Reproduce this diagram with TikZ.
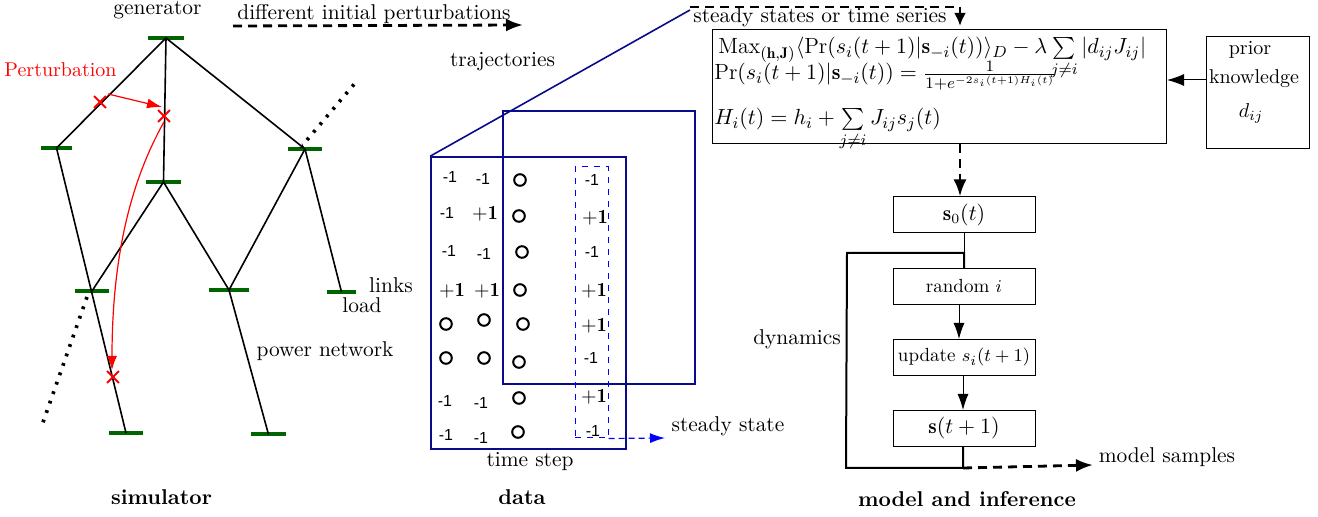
\documentclass[tikz,border=0pt]{standalone}
\usepackage{amsmath}
\usepackage{fontspec}
\usetikzlibrary{arrows.meta,shapes.misc}
\newfontfamily\helv{Liberation Sans}
\definecolor{busgreen}{RGB}{0,100,0}
\definecolor{navy}{RGB}{10,10,140}
\begin{document}
\begin{tikzpicture}[x=0.5pt,y=-0.5pt,
  font=\fontsize{10.7}{13}\selectfont,
  busnode/.style={rectangle, fill=busgreen, inner sep=0pt, minimum height=2pt},
  wire/.style={line width=0.8pt},
  dots/.style={line width=1.8pt, dash pattern=on 1.4pt off 3.6pt},
  pert/.style={red, line width=0.6pt},
  xmark/.style={cross out, draw=red, line width=0.9pt, minimum size=5pt, inner sep=0pt},
  navyline/.style={navy, line width=0.8pt},
  flowbox/.style={draw, line width=0.5pt, minimum width=71pt, minimum height=18pt, inner sep=0pt},
  bigdash/.style={line width=1.4pt, dash pattern=on 4.5pt off 3pt},
  tip/.style={-{Latex[length=8.5pt,width=6.5pt]}},
  smalltip/.style={-{Latex[length=8pt,width=5.5pt]}},
  mone/.style={font=\helv\fontsize{8}{9}\selectfont, inner sep=0pt, node contents={-1}},
  pone/.style={font=\fontsize{10}{12}\selectfont, inner sep=0pt, node contents={$\mathbf{+1}$}},
  ring/.style={circle, draw, line width=1pt, minimum size=5.8pt, inner sep=0pt, node contents={}},
  lbl/.style={anchor=base, inner sep=0pt},
  flowtxt/.style={font=\fontsize{9.5}{11}\selectfont},
  fml/.style={anchor=base west, inner sep=0pt, font=\fontsize{11}{13}\selectfont},
]
\useasboundingbox (0,0) rectangle (1318,517);

% ---------------- simulator ----------------
\node[busnode, minimum width=18pt] (gen) at (166,38) {};
\node[busnode, minimum width=15.5pt] (b1) at (56.5,148) {};
\node[busnode, minimum width=17.5pt] (b2) at (163.5,182) {};
\node[busnode, minimum width=17pt] (b3) at (305,149) {};
\node[busnode, minimum width=17pt] (b4) at (92,291) {};
\node[busnode, minimum width=20pt] (b5) at (229,290) {};
\node[busnode, minimum width=14.5pt] (b6) at (341.5,292) {};
\node[busnode, minimum width=17pt] (b7) at (126,433) {};
\node[busnode, minimum width=17.5pt] (b8) at (268.5,434.5) {};

\draw[wire] (gen.center) -- (b1.center);
\draw[wire] (gen.center) -- (b2.center);
\draw[wire,-{Stealth[length=3pt,width=2.5pt]}] (gen.center) -- (b3.center);
\draw[wire] (b1.center) -- (b7.center);
\draw[wire] (b2.center) -- (b4.center);
\draw[wire] (b2.center) -- (b5.center);
\draw[wire] (b3.center) -- (b5.center);
\draw[wire] (b3.center) -- (b6.center);
\draw[wire] (b5.center) -- (b8.center);

\coordinate (d1a) at (307,140);
\coordinate (d1b) at (356,82);
\coordinate (d2a) at (87,297);
\coordinate (d2b) at (41,428);
\draw[dots] (d1a) -- (d1b);
\draw[dots] (d2a) -- (d2b);

\node[lbl] (tgen) at (157.5,15) {generator};
\node[lbl, red, font=\fontsize{10}{12}\selectfont] (tpert) at (60.5,77) {Perturbation};
\node[lbl] (tlinks) at (391,293) {links};
\node[lbl] (tload) at (362,313) {load};
\node[lbl] (tpow) at (325,357) {power network};
\node[lbl, font=\fontsize{10.7}{13}\selectfont\bfseries] (tsim) at (161.5,505) {simulator};

\node[xmark] (x1) at (100,102) {};
\node[xmark] (x2) at (164,116) {};
\node[xmark] (x3) at (113,377) {};
\coordinate (pa) at (108,94);
\coordinate (pb) at (162,107);
\coordinate (pc) at (112,370);
\draw[pert,-{Latex[length=7.5pt,width=5pt]}] (pa) -- (pb);
\draw[pert,-{Latex[length=7pt,width=5pt]}] (x2.south) .. controls (140,165) and (112,235) .. (pc);

% top dashed arrow
\coordinate (dp1) at (233,26);
\coordinate (dp2) at (523,25);
\draw[bigdash,tip] (dp1) -- (dp2);
\node[lbl] (tdiff) at (374,20) {different initial perturbations};
\node[lbl] (ttraj) at (502.5,67) {trajectories};

% ---------------- data ----------------
\node[draw=navy, line width=0.8pt, minimum width=96pt, minimum height=136.5pt, inner sep=0pt] (back) at (599,247.5) {};
\node[draw=navy, line width=0.8pt, minimum width=97.5pt, minimum height=146pt, inner sep=0pt] (front) at (528.5,303) {};
\node[draw=blue, dashed, line width=0.5pt, minimum width=16.5pt, minimum height=135.5pt, inner sep=0pt] (sscol) at (591.5,302.5) {};
\coordinate (trajend) at (690,10);
\draw[navyline] (front.north west) -- (trajend);
\coordinate (ssend) at (665,438);
\draw[blue, line width=0.6pt, dash pattern=on 3pt off 2pt, -{Latex[length=7.5pt,width=5pt]}] (sscol.south east) -- (ssend);
\node[lbl] (tss) at (728,432) {steady state};
\node[lbl] (tstep) at (530,467) {time step};
\node[lbl, font=\fontsize{10.7}{13}\selectfont\bfseries] (tdata) at (522,505) {data};

\foreach \x/\y/\t [count=\k] in {
  450/177/mone, 483/179/mone, 520/180/ring, 592/180/mone,
  447/213/mone, 485/214/pone, 519/216/ring, 595/218/pone,
  449/251/mone, 484/254/mone, 522/252/ring, 592/252/mone,
  452/291/pone, 487/291/pone, 520/290/ring, 594/291/pone,
  446/324/ring, 484/320/ring, 523/324/ring, 594/326/pone,
  446/358/ring, 484/358/ring, 519/362/ring, 591/358/mone,
  445/401/mone, 481/403/mone, 519/398/ring, 594/397/pone,
  446/435/mone, 481/438/mone, 518/432/ring, 593/431/mone}
  { \node (e\k) at (\x,\y) [\t]; }

% ---------------- model and inference ----------------
\coordinate (sdl) at (690,7);
\coordinate (sdc) at (960,7);
\coordinate (sdt) at (960,26);
\draw[bigdash] (sdl) -- (sdc);
\draw[line width=1.4pt,-{Latex[length=6.5pt,width=6pt]}] (sdc) -- (sdt);
\node[lbl] (tsteady) at (820,23) {steady states or time series};

\node[draw, line width=0.5pt, minimum width=227pt, minimum height=57pt, inner sep=0pt] (formula) at (939.5,86.5) {};
\node[fml] (f1) at (718,54) {$\mathrm{Max}_{(\mathbf{h},\mathbf{J})}\langle \Pr(s_i(t+1)|\mathbf{s}_{-i}(t))\rangle_D-\lambda\sum\limits_{j\neq i}|d_{ij}J_{ij}|$};
\node[fml] (f2) at (714,80) {$\Pr(s_i(t+1)|\mathbf{s}_{-i}(t))=\frac{1}{1+e^{-2s_i(t+1)H_i(t)}}$};
\node[fml] (f3) at (714,125) {$H_i(t)=h_i+\sum\limits_{j\neq i}J_{ij}s_j(t)$};

\node[draw, line width=0.5pt, minimum width=51.5pt, minimum height=56pt, inner sep=0pt] (prior) at (1257.5,93) {};
\node[font=\fontsize{10}{12}\selectfont] (tprior) at (1250,50) {prior};
\node[font=\fontsize{10}{12}\selectfont] (tknow) at (1254,79) {knowledge};
\node[font=\fontsize{10}{12}\selectfont] (tdij) at (1251,113) {$d_{ij}$};
\draw[line width=0.5pt,-{Latex[length=8.5pt,width=6pt]}] (prior.west |- 0,80) -- (formula.east |- 0,80);

\node[flowbox] (s0) at (964,215) {$\mathbf{s}_0(t)$};
\node[flowbox, flowtxt] (rnd) at (964,286.5) {random $i$};
\node[flowbox, flowtxt] (upd) at (964,357.5) {update $s_i(t+1)$};
\node[flowbox] (snext) at (964,428.5) {$\mathbf{s}(t+1)$};

\draw[bigdash,tip] (formula.south -| 960,0) -- (s0.north -| 960,0);
\coordinate (lj) at (964,253);
\coordinate (lbr) at (963,468);
\coordinate (lbl) at (846,468);
\coordinate (ltl) at (847,253);
\draw[line width=0.5pt] (s0.south -| 964,0) -- (lj);
\draw[line width=1pt] (snext.south -| 963,0) -- (lbr) -- (lbl) -- (ltl) -- (lj) -- (rnd.north -| 964,0);
\draw[line width=0.5pt,smalltip] (rnd.south -| 959,0) -- (upd.north -| 959,0);
\draw[line width=0.5pt,smalltip] (upd.south -| 963,0) -- (snext.north -| 963,0);
\coordinate (msend) at (1093,465);
\draw[bigdash,tip] (lbr) -- (msend);
\node[lbl] (tdyn) at (797,345) {dynamics};
\node[lbl] (tms) at (1167,463) {model samples};
\node[lbl, font=\fontsize{10.7}{13}\selectfont\bfseries] (tmi) at (967,507) {model and inference};
\end{tikzpicture}
\end{document}
